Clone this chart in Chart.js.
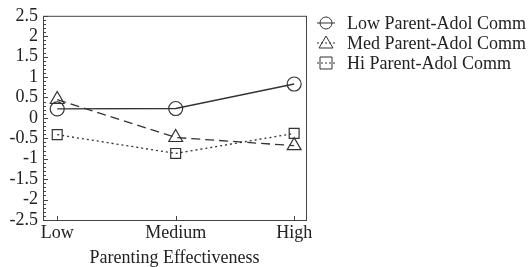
<!DOCTYPE html>
<html>
<head>
<meta charset="utf-8">
<script src="https://cdn.jsdelivr.net/npm/chart.js@4.4.0/dist/chart.umd.min.js"></script>
<style>
  html, body { margin: 0; padding: 0; background: #fff; }
  #wrap { width: 531px; height: 267px; }
</style>
</head>
<body>
<div id="wrap"><canvas id="chart" width="531" height="267"></canvas></div>
<script>
const categories = ['Low', 'Medium', 'High'];
const lowComm = [0.22, 0.23, 0.83];
const medComm = [0.45, -0.48, -0.68];
const hiComm = [-0.41, -0.87, -0.38];
const seriesNames = ['Low Parent-Adol Comm', 'Med Parent-Adol Comm', 'Hi Parent-Adol Comm'];
const yTicks = [-2.5, -2, -1.5, -1, -0.5, 0, 0.5, 1, 1.5, 2, 2.5];

const ink = '#333';
const fontFam = '"Liberation Serif", "DejaVu Serif", serif';

function toPoints(arr) {
    return arr.map((v, i) => ({ x: i, y: v }));
}

// marco, ticks internos y leyenda dibujados a mano
const framePlugin = {
    id: 'frame',
    afterDraw(chart) {
        const { ctx, chartArea: a, scales } = chart;
        ctx.save();
        ctx.strokeStyle = '#444';
        ctx.lineWidth = 1;
        ctx.strokeRect(a.left + 0.5, a.top + 0.5, a.right - a.left, a.bottom - a.top);

        // ticks menores cada 0.1 en eje Y
        ctx.beginPath();
        for (let k = -25; k <= 25; k++) {
            const y = Math.round(scales.y.getPixelForValue(k / 10)) + 0.5;
            const len = (k % 5 === 0) ? 5 : 3;
            ctx.moveTo(a.left, y);
            ctx.lineTo(a.left + len, y);
        }
        // ticks de categorias
        categories.forEach((c, i) => {
            const x = Math.round(scales.x.getPixelForValue(i)) + 0.5;
            ctx.moveTo(x, a.bottom);
            ctx.lineTo(x, a.bottom - 4);
        });
        ctx.stroke();

        // leyenda
        const lx = a.right + 16;
        chart.data.datasets.forEach((ds, i) => {
            const y = 23 + i * 20;
            ctx.strokeStyle = ink;
            ctx.setLineDash(ds.borderDash ? [2, 2] : []);
            ctx.beginPath();
            ctx.moveTo(lx - 5, y);
            ctx.lineTo(lx + 13, y);
            ctx.stroke();
            ctx.setLineDash([]);
            ctx.beginPath();
            if (ds.pointStyle === 'circle') {
                ctx.arc(lx + 4, y, 6, 0, Math.PI * 2);
            } else if (ds.pointStyle === 'triangle') {
                ctx.moveTo(lx + 4, y - 7);
                ctx.lineTo(lx + 11, y + 5);
                ctx.lineTo(lx - 3, y + 5);
                ctx.closePath();
            } else {
                ctx.rect(lx - 2, y - 6, 12, 12);
            }
            ctx.stroke();
            ctx.fillStyle = '#222';
            ctx.font = '18px ' + fontFam;
            ctx.textBaseline = 'middle';
            ctx.fillText(ds.label, lx + 25, y + 1);
        });
        ctx.restore();
    }
};

const baseDs = {
    borderColor: ink,
    borderWidth: 1.3,
    pointRadius: 7,
    pointBorderColor: ink,
    pointBorderWidth: 1.2,
    pointBackgroundColor: 'rgba(255,255,255,0)',
    fill: false,
    tension: 0
};

new Chart(document.getElementById('chart'), {
    type: 'line',
    data: {
        datasets: [
            Object.assign({}, baseDs, { label: seriesNames[0], data: toPoints(lowComm), pointStyle: 'circle' }),
            Object.assign({}, baseDs, { label: seriesNames[1], data: toPoints(medComm), pointStyle: 'triangle', pointRadius: 8, borderDash: [9, 5] }),
            Object.assign({}, baseDs, { label: seriesNames[2], data: toPoints(hiComm), pointStyle: 'rect', pointRadius: 7, borderDash: [2, 3] })
        ]
    },
    options: {
        responsive: false,
        animation: false,
        layout: { padding: { top: 14, right: 225, left: 0, bottom: 0 } },
        plugins: { legend: { display: false }, tooltip: { enabled: false } },
        scales: {
            x: {
                type: 'linear',
                min: -0.12,
                max: 2.1,
                afterBuildTicks(scale) {
                    scale.ticks = categories.map((c, i) => ({ value: i }));
                },
                afterFit(scale) { scale.height = 47; },
                grid: { display: false, drawTicks: false, tickLength: 0 },
                border: { display: false },
                ticks: {
                    color: '#222',
                    font: { family: fontFam, size: 18 },
                    padding: 2,
                    autoSkip: false,
                    maxRotation: 0,
                    callback: (v) => categories[v]
                },
                title: {
                    display: true,
                    text: 'Parenting Effectiveness',
                    color: '#222',
                    font: { family: fontFam, size: 18 },
                    padding: { top: 0, bottom: -2 }
                }
            },
            y: {
                min: -2.5,
                max: 2.5,
                afterBuildTicks(scale) {
                    scale.ticks = yTicks.map(v => ({ value: v }));
                },
                afterFit(scale) { scale.width = 43; },
                grid: { display: false, drawTicks: false, tickLength: 0 },
                border: { display: false },
                ticks: {
                    color: '#222',
                    font: { family: fontFam, size: 18 },
                    padding: 5,
                    autoSkip: false,
                    callback: (v) => String(v)
                }
            }
        }
    },
    plugins: [framePlugin]
});
</script>
</body>
</html>
